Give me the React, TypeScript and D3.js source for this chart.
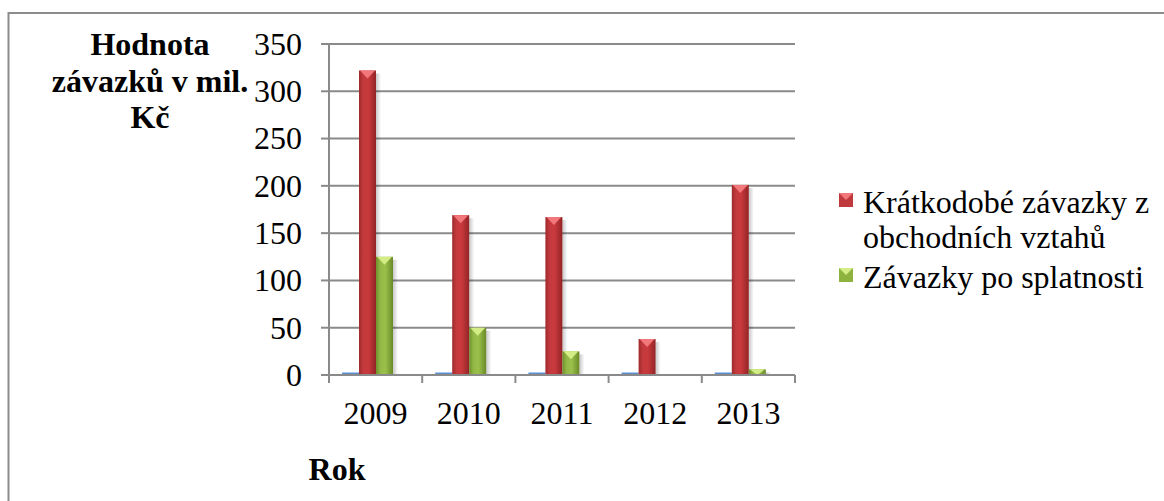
import React from "react";
import * as d3 from "d3";

const years = ["2009", "2010", "2011", "2012", "2013"];
const hiddenSeries = [0, 0, 0, 0, 0];
const shortTermLiabilities = [322, 169, 167, 38, 201];
const overdueLiabilities: (number | null)[] = [125, 50, 25, null, 6];
const yTicks = [0, 50, 100, 150, 200, 250, 300, 350];
const legendLabels = [["Krátkodobé závazky z", "obchodních vztahů"], ["Závazky po splatnosti"]];
const yTitle = ["Hodnota", "závazků v mil.", "Kč"];
const xTitle = "Rok";

const FONT = '"Liberation Serif", Tinos, "Times New Roman", "DejaVu Serif", serif';
const FS = 32;

const W = 1164;
const H = 501;
const plot = { left: 329, right: 795, top: 44, bottom: 375 };

export default function App() {
  const x = d3.scaleBand<string>().domain(years).range([plot.left, plot.right]).padding(0);
  const y = d3.scaleLinear().domain([0, 350]).range([plot.bottom, plot.top]);
  const groupWidth = 51;
  const inner = d3
    .scaleBand<string>()
    .domain(["blue", "red", "green"])
    .range([0, groupWidth])
    .padding(0);
  const groupOffset = 13;
  const bw = inner.bandwidth();

  const series = [
    { key: "red", values: shortTermLiabilities as (number | null)[], grad: "gRed", top: "#f2777a" },
    { key: "green", values: overdueLiabilities, grad: "gGreen", top: "#d3ec86" },
  ];
  const ts = { fontFamily: FONT };

  return (
    <svg
      width={W}
      height={H}
      style={{ position: "absolute", left: 0, top: 0, background: "#fff", fontFamily: FONT }}
    >
      <defs>
        <linearGradient id="gRed" x1="0" x2="1" y1="0" y2="0">
          <stop offset="0" stopColor="#9e2a2c" />
          <stop offset="0.25" stopColor="#c33a3d" />
          <stop offset="0.55" stopColor="#c9393c" />
          <stop offset="1" stopColor="#922426" />
        </linearGradient>
        <linearGradient id="gGreen" x1="0" x2="1" y1="0" y2="0">
          <stop offset="0" stopColor="#6f8f2c" />
          <stop offset="0.25" stopColor="#94b847" />
          <stop offset="0.55" stopColor="#9ac04b" />
          <stop offset="1" stopColor="#6a8a28" />
        </linearGradient>
        <linearGradient id="gShadow" x1="0" x2="1" y1="0" y2="0">
          <stop offset="0" stopColor="#000" stopOpacity="0.22" />
          <stop offset="1" stopColor="#000" stopOpacity="0" />
        </linearGradient>
      </defs>

      {/* outer border */}
      <rect x={8.5} y={13} width={1200} height={600} fill="none" stroke="#8c8c8c" strokeWidth={2} />

      {/* gridlines */}
      {yTicks.map((t) => (
        <g key={t}>
          <line x1={plot.left} x2={plot.right} y1={y(t)} y2={y(t)} stroke="#8a8a8a" strokeWidth={2} />
          <line x1={plot.left - 8} x2={plot.left} y1={y(t)} y2={y(t)} stroke="#8a8a8a" strokeWidth={2} />
          <text x={302} y={y(t)} dy="0.34em" textAnchor="end" fontSize={FS} fill="#000" style={ts}>
            {t}
          </text>
        </g>
      ))}

      {/* bars */}
      {years.map((yr, i) => {
        const gx = (x(yr) as number) + groupOffset;
        return (
          <g key={yr}>
            <rect x={gx + (inner("blue") as number)} y={y(hiddenSeries[i]) - 2.5} width={bw} height={2.5} fill="#5b8fd0" />
            {series.map((s) => {
              const v = s.values[i];
              if (v === null || v === undefined) return null;
              const bx = gx + (inner(s.key) as number);
              const top = y(v);
              const h = plot.bottom - top;
              const tri = Math.min(8, h);
              return (
                <g key={s.key}>
                  <rect x={bx + bw} y={top + 3} width={5} height={Math.max(0, h - 3)} fill="url(#gShadow)" />
                  <rect x={bx} y={top} width={bw} height={h} fill={`url(#${s.grad})`} />
                  <polygon
                    points={`${bx + 1},${top} ${bx + bw - 1},${top} ${bx + bw / 2},${top + tri}`}
                    fill={s.top}
                  />
                </g>
              );
            })}
          </g>
        );
      })}

      {/* axes */}
      <line x1={plot.left} x2={plot.left} y1={plot.top} y2={plot.bottom + 8} stroke="#8a8a8a" strokeWidth={2} />
      <line x1={plot.left} x2={plot.right} y1={plot.bottom} y2={plot.bottom} stroke="#8a8a8a" strokeWidth={2} />
      {[...years.map((yr) => x(yr) as number), plot.right].map((px, i) => (
        <line key={i} x1={px} x2={px} y1={plot.bottom} y2={plot.bottom + 8} stroke="#8a8a8a" strokeWidth={2} />
      ))}
      {years.map((yr) => (
        <text key={yr} x={(x(yr) as number) + x.bandwidth() / 2} y={424} textAnchor="middle" fontSize={FS} style={ts}>
          {yr}
        </text>
      ))}

      {/* axis titles */}
      {yTitle.map((l, i) => (
        <text key={l} x={150} y={55 + i * 36.5} textAnchor="middle" fontSize={FS} fontWeight="bold" style={ts}>
          {l}
        </text>
      ))}
      <text x={337} y={480} textAnchor="middle" fontSize={FS} fontWeight="bold" style={ts}>
        {xTitle}
      </text>

      {/* legend */}
      {[
        { y: 193, col: "#c0393c", top: "#f2777a", lines: legendLabels[0], base: 213 },
        { y: 268, col: "#8db33e", top: "#d3ec86", lines: legendLabels[1], base: 288 },
      ].map((l, i) => (
        <g key={i}>
          <rect x={839} y={l.y} width={14} height={14} fill={l.col} />
          <polygon points={`${839},${l.y} ${853},${l.y} ${846},${l.y + 7}`} fill={l.top} />
          {l.lines.map((t, j) => (
            <text key={j} x={863} y={l.base + j * 35} fontSize={FS} style={ts}>
              {t}
            </text>
          ))}
        </g>
      ))}
    </svg>
  );
}
